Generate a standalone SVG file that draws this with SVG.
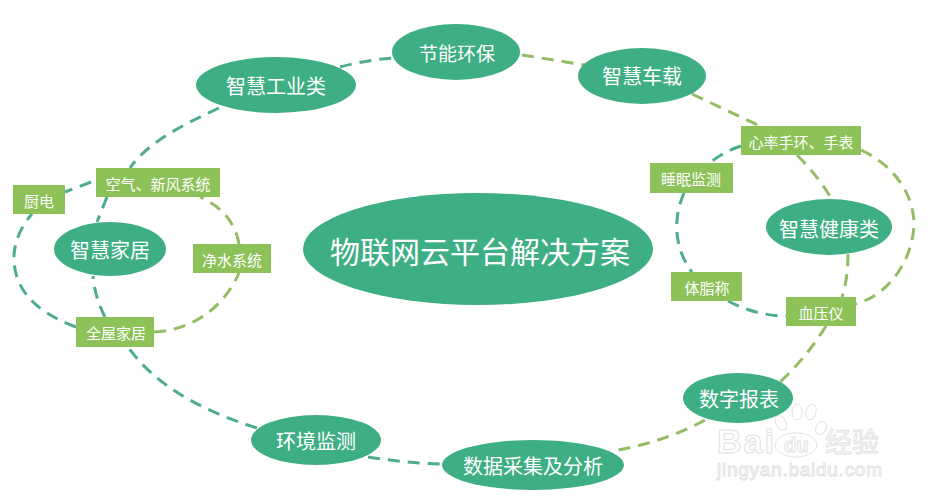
<svg xmlns="http://www.w3.org/2000/svg" width="933" height="503" viewBox="0 0 933 503">
<style>
.e{fill:#3eae84}
.r{fill:#8cc257}
.t{fill:#fff;font-family:"Noto Sans CJK SC","Noto Sans",sans-serif;text-anchor:middle;dominant-baseline:central}
.c{fill:none;stroke-width:3;stroke-dasharray:12 8}
.d{stroke:#4fae8a}
.l{stroke:#93bc63}
.w{font-family:"Liberation Sans",sans-serif;fill:#fff;stroke:#e2e2e2;stroke-width:1}
</style>
<rect width="933" height="503" fill="#fff"/>
<g id="connectors">
<path class="c d" d="M219 108C175 128 145 146 130 168"/>
<path class="c d" d="M340 67Q366 60 393 58"/>
<path class="c l" d="M522 55L585 65"/>
<path class="c l" d="M692 94L760 126"/>
<path class="c d" d="M741 146Q725 151 711 162"/>
<path class="c d" d="M684 193C672 220 675 250 692 272"/>
<path class="c d" d="M728 301C745 310 765 316 786 316"/>
<path class="c l" d="M797 155Q818 176 831 198"/>
<path class="c l" d="M861 150C895 166 914 195 914 225C912 262 888 295 856 304"/>
<path class="c l" d="M848 254C848 270 846 285 842 297"/>
<path class="c l" d="M826 326Q806 358 780 382"/>
<path class="c l" d="M705 420Q665 442 613 451"/>
<path class="c d" d="M368 457Q405 463 442 464"/>
<path class="c d" d="M257 428C200 410 155 385 128 347"/>
<path class="c d" d="M76 327C30 310 13 285 14 255C15 240 22 225 32 214"/>
<path class="c d" d="M105 317Q95 298 93 276"/>
<path class="c l" d="M154 332C195 330 225 305 239 273"/>
<path class="c l" d="M239 244C235 222 222 207 200 197"/>
<path class="c d" d="M107 197L97 222"/>
<path class="c d" d="M91 182L65 192"/>
</g>
<g id="n-center"><ellipse class="e" cx="478" cy="249" rx="175" ry="56"/><text class="t" x="480" y="250" font-size="30">物联网云平台解决方案</text></g>
<g id="n-industry"><ellipse class="e" cx="276" cy="85" rx="80" ry="28"/><text class="t" x="276" y="85" font-size="20">智慧工业类</text></g>
<g id="n-energy"><ellipse class="e" cx="456" cy="52" rx="64" ry="28"/><text class="t" x="457" y="52" font-size="19">节能环保</text></g>
<g id="n-car"><ellipse class="e" cx="642" cy="76" rx="64" ry="28"/><text class="t" x="642" y="75" font-size="20">智慧车载</text></g>
<g id="n-health"><ellipse class="e" cx="829" cy="227" rx="63" ry="28"/><text class="t" x="829" y="228" font-size="20">智慧健康类</text></g>
<g id="n-report"><ellipse class="e" cx="738" cy="398" rx="55" ry="25"/><text class="t" x="739" y="398" font-size="20">数字报表</text></g>
<g id="n-data"><ellipse class="e" cx="533" cy="465" rx="91" ry="25"/><text class="t" x="533" y="465" font-size="20">数据采集及分析</text></g>
<g id="n-env"><ellipse class="e" cx="316" cy="440" rx="65" ry="25"/><text class="t" x="316" y="440" font-size="20">环境监测</text></g>
<g id="n-home"><ellipse class="e" cx="110" cy="249" rx="56" ry="27"/><text class="t" x="110" y="249" font-size="20">智慧家居</text></g>
<g id="n-air"><rect class="r" x="96" y="168" width="124" height="29"/><text class="t" x="158" y="183" font-size="15">空气、新风系统</text></g>
<g id="n-kitchen"><rect class="r" x="13" y="185" width="52" height="29"/><text class="t" x="39" y="200" font-size="15">厨电</text></g>
<g id="n-water"><rect class="r" x="193" y="244" width="78" height="29"/><text class="t" x="232" y="259" font-size="15">净水系统</text></g>
<g id="n-whole"><rect class="r" x="76" y="317" width="78" height="30"/><text class="t" x="116" y="332" font-size="15">全屋家居</text></g>
<g id="n-heart"><rect class="r" x="741" y="126" width="120" height="29"/><text class="t" x="801" y="141" font-size="15">心率手环、手表</text></g>
<g id="n-sleep"><rect class="r" x="650" y="163" width="83" height="30"/><text class="t" x="691" y="178" font-size="15">睡眠监测</text></g>
<g id="n-fat"><rect class="r" x="671" y="272" width="71" height="29"/><text class="t" x="707" y="287" font-size="15">体脂称</text></g>
<g id="n-bp"><rect class="r" x="786" y="297" width="70" height="29"/><text class="t" x="821" y="312" font-size="15">血压仪</text></g>
<g id="watermark" fill="#fff" stroke="#e2e2e2">
<ellipse cx="781" cy="423" rx="5" ry="8" transform="rotate(-30 781 423)"/>
<ellipse cx="797" cy="412" rx="5" ry="8"/>
<ellipse cx="811" cy="412" rx="5" ry="8" transform="rotate(15 811 412)"/>
<ellipse cx="821" cy="428" rx="5" ry="7" transform="rotate(30 821 428)"/>
<ellipse cx="796" cy="445" rx="21" ry="12"/>
<text class="w" x="717" y="453" font-size="34" font-weight="bold" textLength="57">Bai</text>
<text class="w" x="784" y="452" font-size="20" font-weight="bold">du</text>
<text class="w" x="825" y="452" font-size="27" style="font-family:'Noto Sans CJK SC',sans-serif">经验</text>
<text class="w" x="717" y="476" font-size="19" textLength="165">jingyan.baidu.com</text>
</g>
</svg>
